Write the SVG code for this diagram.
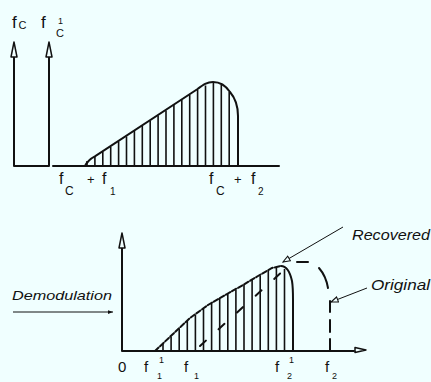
<svg xmlns="http://www.w3.org/2000/svg" width="431" height="382" viewBox="0 0 431 382">
<defs>
<style>
.bg{fill:#f0ffff}
.ln{stroke:#111;stroke-width:2;fill:none;stroke-linecap:round}
.th{stroke:#111;stroke-width:1;fill:none}
.ht{stroke:#111;stroke-width:1.6;fill:none}
.ah{fill:#f0ffff;stroke:#111;stroke-width:1.5;stroke-linejoin:round}
.t{font-family:"Liberation Sans",Arial,sans-serif;fill:#111}
.it{font-family:"Liberation Sans",Arial,sans-serif;font-style:italic;fill:#111}
</style>
<marker id="oa" viewBox="0 0 10 8" refX="9" refY="4" markerWidth="9" markerHeight="7" orient="auto" markerUnits="userSpaceOnUse">
<path d="M1,1 L9,4 L1,7 Z" fill="#f0ffff" stroke="#111" stroke-width="1.2"/>
</marker>
<marker id="sa" viewBox="0 0 10 8" refX="9" refY="4" markerWidth="7" markerHeight="5" orient="auto" markerUnits="userSpaceOnUse">
<path d="M1,1 L9,4 L1,7 Z" fill="#111"/>
</marker>
</defs>
<rect class="bg" x="0" y="0" width="431" height="382"/>

<g id="top-axes">
<path class="ln" d="M14,166 L49,166 M53,166 L279,166 M14,166 L14,57 M49,166 L49,57"/>
<path class="ah" d="M14,42 L11,57 L17,57 Z"/>
<path class="ah" d="M49,42 L46,57 L52,57 Z"/>
</g>

<g id="top-spectrum">
<path class="ln" d="M85,166 Q88,160 94.9,156.4 L197.6,89 C203,85 207,82 213,82 C221,82 226,86 230,92 C236,99 238,106 238,116 L238,166"/>
<path class="ht" d="M87,166V161 M94.9,166V157 M102.8,166V152 M110.7,166V147 M118.6,166V141.5 M126.5,166V136.5 M134.4,166V131 M142.3,166V126 M150.2,166V121 M158.1,166V115.5 M166,166V110.5 M173.9,166V105 M181.8,166V100 M189.7,166V95 M197.6,166V90 M205.5,166V85.5 M213.4,166V83 M221.3,166V85 M229.2,166V92"/>
</g>

<g id="top-labels">
<text class="t" x="12" y="28" font-size="17">f</text>
<text class="t" x="18.5" y="29" font-size="11">C</text>
<text class="t" x="41" y="28" font-size="17">f</text>
<text class="t" x="58" y="24" font-size="9">1</text>
<text class="t" x="56" y="37" font-size="11">C</text>
<text class="t" x="59" y="184" font-size="16">f</text>
<text class="t" x="65" y="195" font-size="12">C</text>
<text class="t" x="87" y="184" font-size="13">+</text>
<text class="t" x="102" y="184" font-size="16">f</text>
<text class="t" x="110" y="195" font-size="10">1</text>
<text class="t" x="209" y="184" font-size="16">f</text>
<text class="t" x="216" y="195" font-size="12">C</text>
<text class="t" x="234" y="184" font-size="13">+</text>
<text class="t" x="251" y="184" font-size="16">f</text>
<text class="t" x="258" y="195" font-size="10">2</text>
</g>

<g id="bottom-axes">
<path class="ln" d="M122,351 L122,248 M122,351 L354,351"/>
<path class="ah" d="M122,233 L119,248 L125,248 Z"/>
<path class="ah" d="M366,350 L355,347.5 L355,352.5 Z"/>
</g>

<g id="recovered-spectrum">
<path class="ln" d="M155,351 L163,343.4 L173,334 L190,318 L208,305 L227,294 L243,285 L258,276 L272,268 L281,266" stroke-dasharray="5 2"/>
<path class="ln" d="M281,266 C287,266 290,272 292,281 C293,287 293,294 293,300 L293,351" stroke-width="2.4"/>
<path class="ht" d="M163,351V344 M171.1,351V336.5 M179.2,351V329 M187.3,351V321 M195.4,351V315 M203.5,351V309 M211.6,351V303.5 M219.7,351V299 M227.8,351V294 M235.9,351V290 M244,351V285 M252.1,351V280 M260.2,351V275.5 M268.3,351V271 M276.4,351V268 M284.5,351V269"/>
</g>

<g id="original-spectrum">
<path class="ln" d="M200,346 L284,270" stroke-dasharray="8 17" stroke-width="2"/>
<path class="ln" d="M297,262 L308,262" stroke-width="2"/>
<path class="ln" d="M319,268 Q326,276 328,288" stroke-width="2.6"/>
<path class="ln" d="M330,301 V312 M330,320 V332 M330,339 V351" stroke-width="2.6"/>
</g>

<g id="connectors">
<path class="th" d="M343,227 L283,262" stroke-width="1.4" marker-end="url(#oa)"/>
<path class="th" d="M367,288 L331,302" stroke-width="1.4" marker-end="url(#oa)"/>
<path class="th" d="M13,312 L113,312" marker-end="url(#sa)"/>
</g>

<g id="bottom-labels">
<text class="it" x="352" y="240" font-size="14" textLength="78" lengthAdjust="spacingAndGlyphs">Recovered</text>
<text class="it" x="371" y="290" font-size="14" textLength="59" lengthAdjust="spacingAndGlyphs">Original</text>
<text class="it" x="12" y="300" font-size="13" textLength="100" lengthAdjust="spacingAndGlyphs">Demodulation</text>
<text class="t" x="118" y="372" font-size="15">0</text>
<text class="t" x="144" y="372" font-size="15">f</text>
<text class="t" x="159" y="363" font-size="9">1</text>
<text class="t" x="157" y="379" font-size="9">1</text>
<text class="t" x="184" y="372" font-size="15">f</text>
<text class="t" x="194" y="379" font-size="9">1</text>
<text class="t" x="275" y="372" font-size="15">f</text>
<text class="t" x="289" y="363" font-size="9">1</text>
<text class="t" x="287" y="379" font-size="9">2</text>
<text class="t" x="325" y="372" font-size="15">f</text>
<text class="t" x="332" y="379" font-size="9">2</text>
</g>
</svg>
